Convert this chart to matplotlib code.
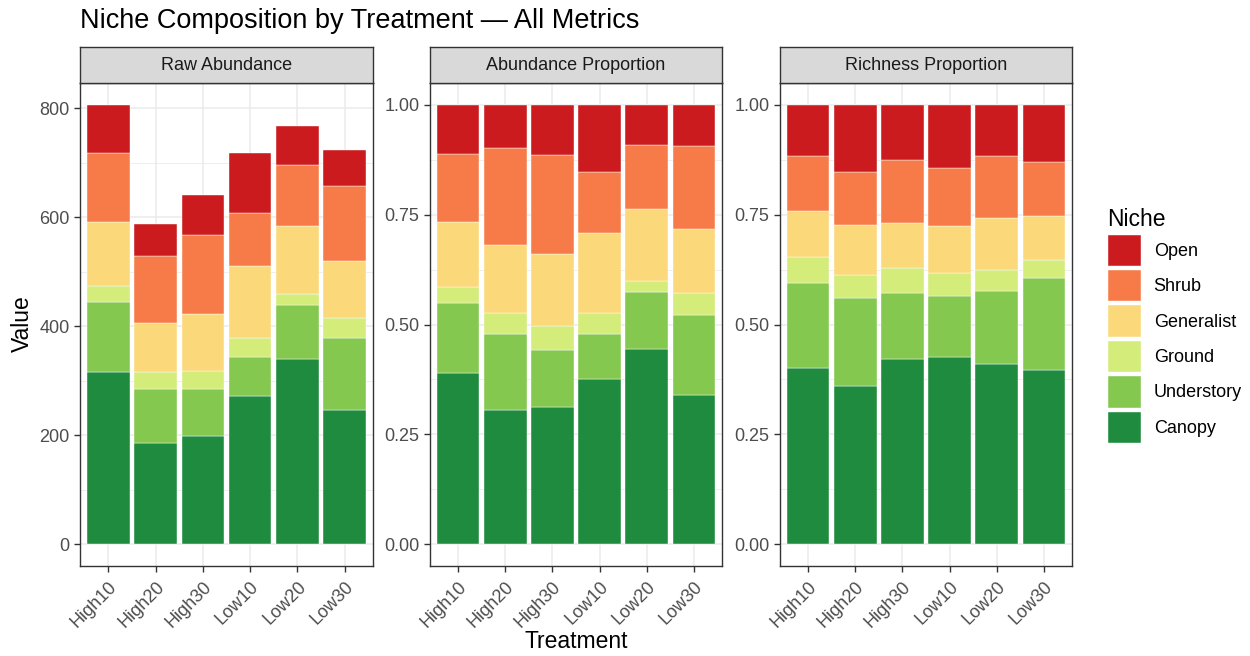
import matplotlib.pyplot as plt
from matplotlib.patches import Patch
import numpy as np

# Treatments and niche groups (bottom of stack first)
treatments = ["High10", "High20", "High30", "Low10", "Low20", "Low30"]
niches = ["Canopy", "Understory", "Ground", "Generalist", "Shrub", "Open"]
niche_colors = ["#1F8B3F", "#84C850", "#D4EC7A", "#FBD87A", "#F77B49", "#CB1B1E"]

# Raw abundance per niche
raw_canopy = [315, 186, 199, 271, 340, 246]
raw_understory = [130, 99, 85, 73, 98, 133]
raw_ground = [29, 30, 33, 35, 21, 36]
raw_generalist = [118, 90, 105, 131, 125, 105]
raw_shrub = [126, 124, 146, 98, 112, 137]
raw_open = [88, 58, 72, 110, 71, 67]

# Abundance proportion per niche
abd_canopy = [0.389, 0.305, 0.312, 0.377, 0.445, 0.339]
abd_understory = [0.159, 0.173, 0.130, 0.101, 0.128, 0.183]
abd_ground = [0.038, 0.049, 0.055, 0.049, 0.025, 0.050]
abd_generalist = [0.147, 0.155, 0.164, 0.181, 0.165, 0.145]
abd_shrub = [0.155, 0.220, 0.225, 0.140, 0.146, 0.190]
abd_open = [0.112, 0.098, 0.114, 0.152, 0.091, 0.093]

# Richness proportion per niche
rich_canopy = [0.402, 0.360, 0.421, 0.426, 0.410, 0.396]
rich_understory = [0.193, 0.200, 0.151, 0.138, 0.166, 0.210]
rich_ground = [0.059, 0.052, 0.056, 0.054, 0.047, 0.041]
rich_generalist = [0.104, 0.115, 0.103, 0.106, 0.119, 0.101]
rich_shrub = [0.125, 0.121, 0.143, 0.132, 0.141, 0.122]
rich_open = [0.117, 0.152, 0.126, 0.144, 0.117, 0.130]

panels = [
    ("Raw Abundance",
     [raw_canopy, raw_understory, raw_ground, raw_generalist, raw_shrub, raw_open],
     [0, 200, 400, 600, 800], ["0", "200", "400", "600", "800"]),
    ("Abundance Proportion",
     [abd_canopy, abd_understory, abd_ground, abd_generalist, abd_shrub, abd_open],
     [0, 0.25, 0.5, 0.75, 1.0], ["0.00", "0.25", "0.50", "0.75", "1.00"]),
    ("Richness Proportion",
     [rich_canopy, rich_understory, rich_ground, rich_generalist, rich_shrub, rich_open],
     [0, 0.25, 0.5, 0.75, 1.0], ["0.00", "0.25", "0.50", "0.75", "1.00"]),
]

plt.rcParams["font.family"] = ["Liberation Sans", "DejaVu Sans"]

W, H = 1250, 656
fig = plt.figure(figsize=(W / 100, H / 100), dpi=100)


def box(x0, y0, x1, y1):
    return [x0 / W, 1 - y1 / H, (x1 - x0) / W, (y1 - y0) / H]


panel_x = [(80, 373), (430, 722), (780, 1072)]
top, bottom, strip_top = 83, 566, 47

x = np.arange(len(treatments))
for (name, layers, ticks, ticklabels), (x0, x1) in zip(panels, panel_x):
    ax = fig.add_axes(box(x0, top, x1, bottom))
    base = np.zeros(len(treatments))
    for vals, col in zip(layers, niche_colors):
        vals = np.array(vals, dtype=float)
        ax.bar(x, vals, width=0.9, bottom=base, color=col,
               edgecolor="white", linewidth=0.3, zorder=3)
        base += vals
    # raw panel scales to the tallest stack, proportions to 1
    ymax = base.max() if name == "Raw Abundance" else 1.0
    pad = ymax * 0.05
    ax.set_ylim(-pad, ymax + pad)
    ax.set_xlim(-0.6, len(treatments) - 0.4)
    ax.set_yticks(ticks)
    ax.set_yticklabels(ticklabels)
    minor = [(a + b) / 2 for a, b in zip(ticks[:-1], ticks[1:])]
    ax.set_yticks(minor, minor=True)
    ax.set_xticks(x)
    ax.set_xticklabels(treatments, rotation=45, ha="right", va="top",
                       rotation_mode="anchor")
    ax.tick_params(axis="both", which="major", labelsize=13, colors="#333333",
                   labelcolor="#4D4D4D", length=4, width=1)
    ax.tick_params(axis="x", pad=5)
    ax.tick_params(which="minor", length=0)
    ax.grid(True, which="major", color="#EBEBEB", linewidth=1.1, zorder=0)
    ax.grid(True, which="minor", axis="y", color="#EBEBEB", linewidth=0.6, zorder=0)
    ax.set_axisbelow(True)
    for s in ax.spines.values():
        s.set_color("#333333")
        s.set_linewidth(1.0)
        s.set_zorder(5)

    # facet strip
    sax = fig.add_axes(box(x0, strip_top, x1, top))
    sax.set_facecolor("#D9D9D9")
    sax.set_xticks([])
    sax.set_yticks([])
    for s in sax.spines.values():
        s.set_color("#333333")
        s.set_linewidth(1.0)
    sax.text(0.5, 0.5, name, ha="center", va="center", fontsize=13,
             color="#1A1A1A", transform=sax.transAxes)

fig.text(80 / W, 1 - 21 / H, "Niche Composition by Treatment \u2014 All Metrics",
         fontsize=19.5, ha="left", va="center", color="black")
fig.text(22 / W, 1 - 324 / H, "Value", rotation=90, fontsize=16.5,
         ha="center", va="center")
fig.text(576 / W, 1 - 642 / H, "Treatment", fontsize=16.5,
         ha="center", va="center")

handles = [Patch(facecolor=c, edgecolor="white", linewidth=0.3)
           for c in niche_colors[::-1]]
leg = fig.legend(handles, niches[::-1], title="Niche", loc="upper left",
                 bbox_to_anchor=(1104 / W, 1 - 204 / H), frameon=False,
                 fontsize=13, title_fontsize=16.5, handlelength=1.85,
                 handleheight=2.3, labelspacing=0.22, handletextpad=0.7,
                 borderaxespad=0, borderpad=0.2)
leg._legend_box.align = "left"

fig.savefig("out.png", dpi=100)
